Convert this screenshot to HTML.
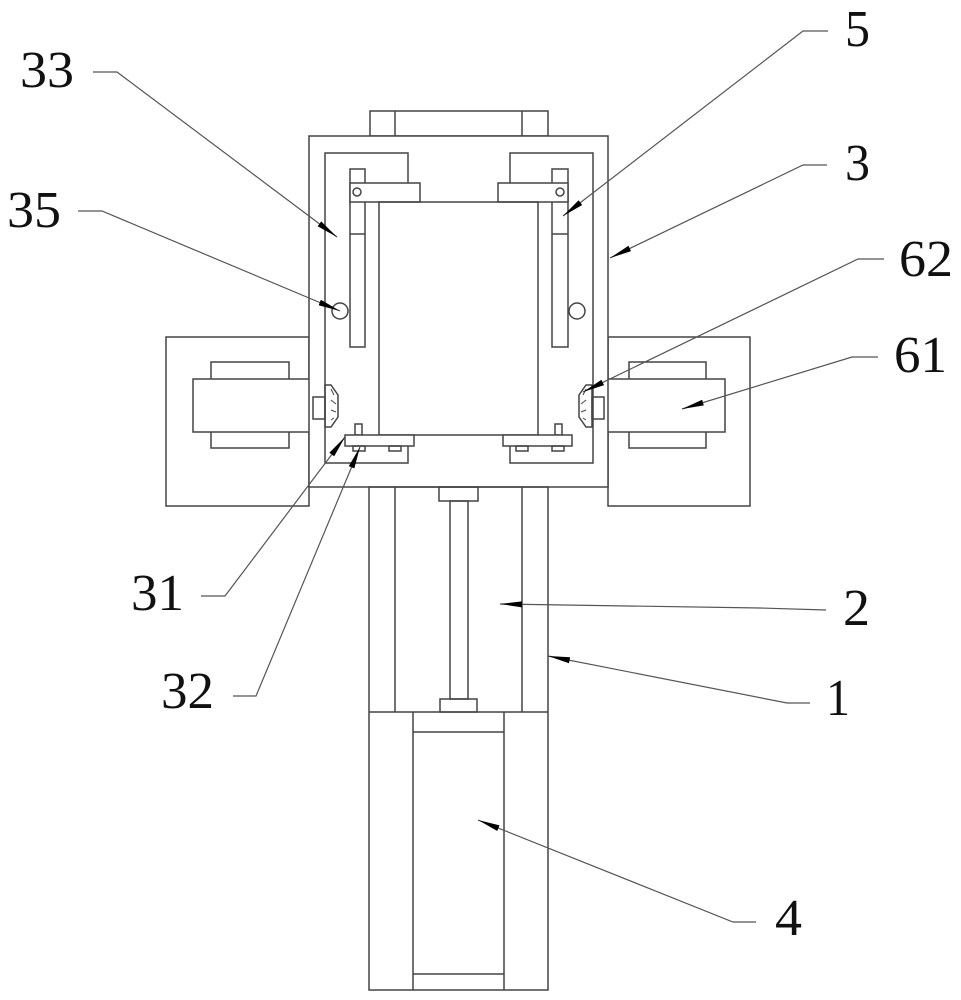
<!DOCTYPE html>
<html><head><meta charset="utf-8"><style>
html,body{margin:0;padding:0;background:#fff;}
svg{display:block;}
text{font-family:"Liberation Serif",serif;font-size:52px;fill:#111;}
</style></head><body>
<svg width="961" height="1000" viewBox="0 0 961 1000" xmlns="http://www.w3.org/2000/svg">
<defs>
<marker id="a" viewBox="0 0 22 8" refX="22" refY="4" markerWidth="22" markerHeight="8" markerUnits="userSpaceOnUse" orient="auto">
<path d="M0,1 L22,4 L0,7 Z" fill="#000"/>
</marker>
</defs>
<g fill="none" stroke="#444" stroke-width="1.5">
<!-- top cap -->
<rect x="370" y="111" width="178" height="25"/>
<line x1="395" y1="111" x2="395" y2="136"/><line x1="522" y1="111" x2="522" y2="136"/>
<!-- side plates -->
<rect x="166" y="337" width="143" height="169"/>
<rect x="608" y="337" width="142" height="169"/>
<!-- motors -->
<rect x="211" y="362" width="78" height="86"/>
<rect x="193" y="379" width="117" height="53" fill="#fff"/>
<rect x="629" y="362" width="77" height="86"/>
<rect x="607" y="379" width="118" height="53" fill="#fff"/>
<!-- outer frame -->
<rect x="309" y="136" width="299" height="351" fill="#fff"/>
<!-- inner frame -->
<path d="M408,183 V153 H325 V463 H408 V446"/>
<path d="M510,183 V153 H593 V463 H510 V446"/>
<!-- clamp bars -->
<rect x="350" y="169" width="15" height="178"/>
<line x1="350" y1="234" x2="365" y2="234"/>
<rect x="350" y="183" width="70" height="19" fill="#fff"/>
<circle cx="357" cy="192" r="4"/>
<rect x="552" y="169" width="16" height="178"/>
<line x1="552" y1="234" x2="568" y2="234"/>
<rect x="498" y="183" width="70" height="19" fill="#fff"/>
<circle cx="560" cy="192" r="4"/>
<circle cx="340" cy="311" r="8"/>
<circle cx="577" cy="311" r="8"/>
<!-- content box -->
<rect x="379" y="202" width="159" height="233"/>
<!-- bottom plates -->
<rect x="355" y="424" width="7" height="11"/>
<rect x="345" y="435" width="69" height="11" fill="#fff"/>
<rect x="353" y="446" width="12" height="5"/><rect x="389" y="446" width="12" height="5"/>
<rect x="555" y="424" width="7" height="11"/>
<rect x="503" y="435" width="69" height="11" fill="#fff"/>
<rect x="516" y="446" width="12" height="5"/><rect x="552" y="446" width="12" height="5"/>
<!-- knobs -->
<rect x="313" y="397" width="12" height="22"/>
<path d="M325,385 H331 L338,395 V417 L331,427 H325 Z"/>
<path d="M331,389 L334,395 M331,400 L336,404 M331,410 L336,412 M331,420 L334,418" stroke-width="1"/>
<rect x="592" y="397" width="12" height="22"/>
<path d="M592,385 H586 L579,395 V417 L586,427 H592 Z"/>
<path d="M586,389 L583,395 M586,400 L581,404 M586,410 L581,412 M586,420 L583,418" stroke-width="1"/>
<!-- lower body -->
<rect x="369" y="487" width="179" height="503"/>
<line x1="395" y1="487" x2="395" y2="712"/><line x1="522" y1="487" x2="522" y2="712"/>
<line x1="369" y1="712" x2="548" y2="712"/>
<rect x="439" y="487" width="39" height="14"/>
<rect x="450" y="501" width="18" height="198"/>
<rect x="440" y="699" width="37" height="13"/>
<line x1="413" y1="712" x2="413" y2="990"/><line x1="504" y1="712" x2="504" y2="990"/>
<line x1="413" y1="732" x2="504" y2="732"/><line x1="413" y1="974" x2="504" y2="974"/>
</g>
<!-- leaders -->
<g fill="none" stroke="#555" stroke-width="1.2">
<polyline points="93,72 117,72 337,237" marker-end="url(#a)"/>
<polyline points="78,211 102,211 340,311" marker-end="url(#a)"/>
<polyline points="828,31 803,31 563,216" marker-end="url(#a)"/>
<polyline points="827,165 803,165 610,258" marker-end="url(#a)"/>
<polyline points="884,259 858,259 583,392" marker-end="url(#a)"/>
<polyline points="878,357 852,357 682,409" marker-end="url(#a)"/>
<polyline points="201,596 225,596 345,437" marker-end="url(#a)"/>
<polyline points="233,696 256,696 360,447" marker-end="url(#a)"/>
<polyline points="826,610 760,608 500,604" marker-end="url(#a)"/>
<polyline points="810,703 787,703 548,656" marker-end="url(#a)"/>
<polyline points="756,922 733,922 478,820" marker-end="url(#a)"/>
</g>
<g>
<text x="20" y="87" textLength="54" lengthAdjust="spacingAndGlyphs">33</text>
<text x="7" y="227" textLength="54" lengthAdjust="spacingAndGlyphs">35</text>
<text x="845" y="46" textLength="25" lengthAdjust="spacingAndGlyphs">5</text>
<text x="845" y="180" textLength="25" lengthAdjust="spacingAndGlyphs">3</text>
<text x="899" y="276" textLength="54" lengthAdjust="spacingAndGlyphs">62</text>
<text x="894" y="372" textLength="53" lengthAdjust="spacingAndGlyphs">61</text>
<text x="131" y="610" textLength="53" lengthAdjust="spacingAndGlyphs">31</text>
<text x="161" y="708" textLength="53" lengthAdjust="spacingAndGlyphs">32</text>
<text x="843" y="625" textLength="27" lengthAdjust="spacingAndGlyphs">2</text>
<text x="826" y="715" textLength="24" lengthAdjust="spacingAndGlyphs">1</text>
<text x="775" y="935" textLength="27" lengthAdjust="spacingAndGlyphs">4</text>
</g>
</svg>
</body></html>
